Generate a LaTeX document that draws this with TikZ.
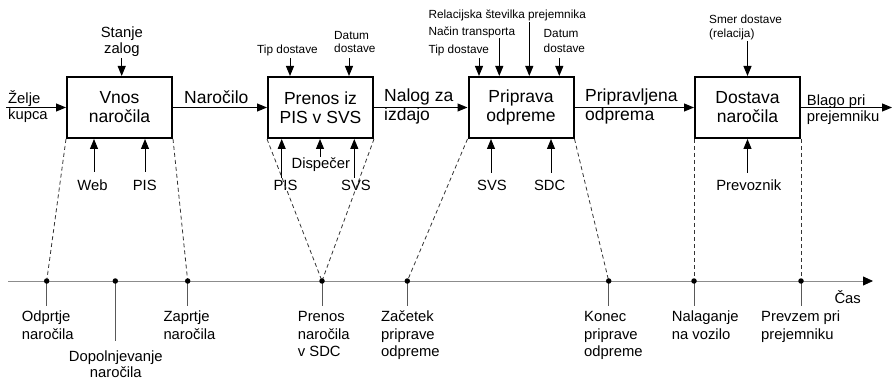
\documentclass[tikz,border=0pt]{standalone}
\usepackage{fontspec}
\setmainfont{Liberation Sans}
\usetikzlibrary{arrows.meta}
% multi-line label whose baseline is that of its first line
\newcommand{\stk}[2]{\begin{tabular}[t]{@{}#1@{}}#2\end{tabular}}

\tikzset{
  big/.style={font=\fontsize{17.5}{#1}\selectfont}, big/.default=18.5,
  med/.style={font=\fontsize{14.8}{#1}\selectfont}, med/.default=17.5,
  sml/.style={font=\fontsize{11.8}{#1}\selectfont}, sml/.default=14,
  lbl/.style={inner sep=0pt, anchor=base west},
  clbl/.style={inner sep=0pt, anchor=base},
  proc/.style={draw, line width=2pt, minimum width=105pt, minimum height=61pt,
    inner sep=0pt, align=center, font=\fontsize{17.5}{19}\selectfont},
  flow/.style={line width=1pt, -{Triangle[length=10pt,width=8pt]}},
  guide/.style={line width=0.8pt, dash pattern=on 4pt off 3pt, draw=black!80},
  tickline/.style={line width=1pt, draw=black!65},
  evt/.style={circle, fill=black, inner sep=0pt, minimum size=5.5pt},
}

\begin{document}
\begin{tikzpicture}[x=1pt,y=-1pt]
\useasboundingbox (0,0) rectangle (893,379);

% process boxes
\node[proc] (b1) at (119.5,107.5) {Vnos\\naročila};
\node[proc] (b2) at (320.5,107.5) {Prenos iz\\PIS v SVS};
\node[proc] (b3) at (521,107.5) {Priprava\\odpreme};
\node[proc] (b4) at (747.5,107.5) {Dostava\\naročila};

% main flow
\coordinate (in0) at (6,107.5);
\coordinate (out0) at (892,107.5);
\draw[flow] (in0) -- (b1.west);
\draw[flow] (b1.east) -- (b2.west);
\draw[flow] (b2.east) -- (b3.west);
\draw[flow] (b3.east) -- (b4.west);
\draw[flow] (b4.east) -- (out0);

\node[lbl, med=15.5] (fin) at (8,104) {\stk{l}{Želje\\kupca}};
\node[lbl, big] (f1) at (184,104) {Naročilo};
\node[lbl, big] (f2) at (384,102) {\stk{l}{Nalog za\\izdajo}};
\node[lbl, big] (f3) at (585,102) {\stk{l}{Pripravljena\\odprema}};
\node[lbl, med=14.7] (fout) at (806.7,106) {\stk{l}{Blago pri\\prejemniku}};

% controls from above
\coordinate (s1) at (121.7,58);
\coordinate (s2a) at (290,58);
\coordinate (s2b) at (349,58);
\coordinate (s3a) at (479,58);
\coordinate (s3b) at (499.3,38.5);
\coordinate (s3c) at (529.3,22);
\coordinate (s3d) at (559.3,58);
\coordinate (s4) at (747.5,41.5);
\foreach \c/\b in {s1/b1,s2a/b2,s2b/b2,s3a/b3,s3b/b3,s3c/b3,s3d/b3,s4/b4}
  \draw[flow] (\c) -- (\c |- \b.north);

\node[clbl, med=16] (c1) at (121.8,37.3) {\stk{c}{Stanje\\zalog}};
\node[clbl, sml] (c2a) at (287.5,54) {Tip dostave};
\node[lbl, sml=13.4] (c2b) at (334,39.3) {\stk{l}{Datum\\dostave}};
\node[lbl, sml] (c3c) at (428.3,18.5) {Relacijska številka prejemnika};
\node[lbl, sml] (c3b) at (428.3,36) {Način transporta};
\node[lbl, sml] (c3a) at (428.3,53.3) {Tip dostave};
\node[lbl, sml=14.6] (c3d) at (543.5,37.7) {\stk{l}{Datum\\dostave}};
\node[lbl, sml=13.7] (c4) at (709,24) {\stk{l}{Smer dostave\\(relacija)}};

% mechanisms from below
\coordinate (w1) at (94,171.7);
\coordinate (p1) at (145,171.7);
\coordinate (p2) at (281.7,178);
\coordinate (d2) at (320,157);
\coordinate (v2) at (354.3,178);
\coordinate (v3) at (491,173);
\coordinate (c3) at (551,173);
\coordinate (r4) at (747.5,173);
\foreach \c/\b in {w1/b1,p1/b1,p2/b2,d2/b2,v2/b2,v3/b3,c3/b3,r4/b4}
  \draw[flow] (\c) -- (\c |- \b.south);

\node[clbl, med] (m1a) at (92.5,190.7) {Web};
\node[clbl, med] (m1b) at (144.7,190.7) {PIS};
\node[clbl, med] (m2a) at (285.5,190.7) {PIS};
\node[clbl, med] (m2b) at (320.8,169) {Dispečer};
\node[clbl, med] (m2c) at (356,190.7) {SVS};
\node[clbl, med] (m3a) at (492,190.5) {SVS};
\node[clbl, med] (m3b) at (549.7,190.5) {SDC};
\node[clbl, med] (m4) at (748.8,190.7) {Prevoznik};

% time axis
\coordinate (ta) at (8,281);
\coordinate (tb) at (873,281);
\draw[line width=0.8pt, draw=black!45, -{Triangle[length=10pt,width=9pt,black]}] (ta) -- (tb);
\node[lbl, med] (tcas) at (834.3,303.3) {Čas};

\coordinate (e1) at (46.7,281);
\coordinate (e2) at (115.3,281);
\coordinate (e3) at (187.7,281);
\coordinate (e4) at (322,281);
\coordinate (e5) at (407.3,281);
\coordinate (e6) at (608.7,281);
\coordinate (e7) at (694,281);
\coordinate (e8) at (801,281);
\coordinate (tk) at (0,306);
\coordinate (tkl) at (0,341);

% projections of the boxes onto the time axis
\draw[guide] (b1.south west) -- (e1);
\draw[guide] (b1.south east) -- (e3);
\draw[guide] (b2.south west) -- (e4);
\draw[guide] (b2.south east) -- (e4);
\draw[guide] (b3.south west) -- (e5);
\draw[guide] (b3.south east) -- (e6);
\draw[guide] (b4.south west) -- (e7);
\draw[guide] (b4.south east) -- (e8);

\foreach \e in {e1,e3,e4,e5,e6,e7,e8}
  \draw[tickline] (\e) -- (\e |- tk);
\draw[tickline] (e2) -- (e2 |- tkl);

\foreach \e in {1,...,8}
  \node[evt] (d\e) at (e\e) {};

% events
\node[lbl, med] (v1) at (21.7,321.7) {\stk{l}{Odprtje\\naročila}};
\node[clbl, med=16] (v2n) at (115.8,361) {\stk{c}{Dopolnjevanje\\naročila}};
\node[lbl, med] (v3n) at (163.3,321.7) {\stk{l}{Zaprtje\\naročila}};
\node[lbl, med] (v4) at (297.7,321.7) {\stk{l}{Prenos\\naročila\\v SDC}};
\node[lbl, med] (v5) at (381,321.7) {\stk{l}{Začetek\\priprave\\odpreme}};
\node[lbl, med] (v6) at (584,321.7) {\stk{l}{Konec\\priprave\\odpreme}};
\node[lbl, med] (v7) at (671.7,321.7) {\stk{l}{Nalaganje\\na vozilo}};
\node[lbl, med] (v8) at (761,321.7) {\stk{l}{Prevzem pri\\prejemniku}};
\end{tikzpicture}
\end{document}
